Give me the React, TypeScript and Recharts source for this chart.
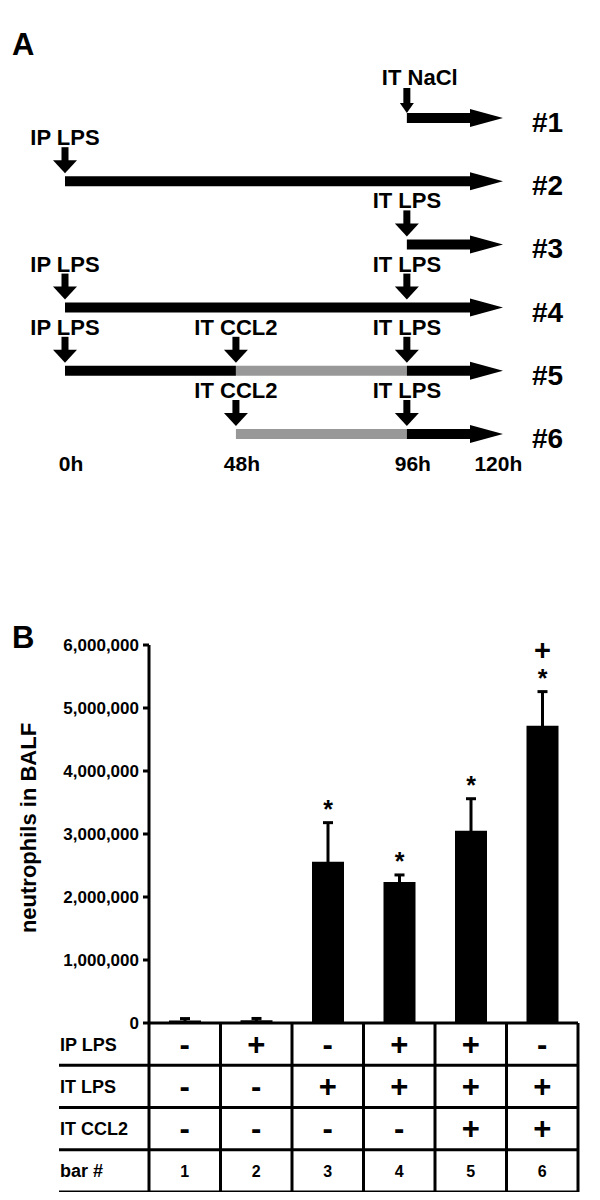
import React from 'react';
import {
  ComposedChart,
  BarChart,
  Bar,
  XAxis,
  YAxis,
  ReferenceLine,
  Scatter,
  ErrorBar,
  LabelList,
} from 'recharts';

const FONT = '"Liberation Sans", Arial, Helvetica, sans-serif';
const GRAY = '#989898';

// ---------- Panel A : treatment timeline ----------
const rowIds = [1, 2, 3, 4, 5, 6];
const rowNames = ['#1', '#2', '#3', '#4', '#5', '#6'];
const hourTicks = [0, 48, 96, 120];
const hourEnd = 123;
const segRow = [1, 2, 3, 4, 5, 5, 5, 6, 6];
const segFrom = [96, 0, 96, 0, 0, 48, 96, 48, 96];
const segTo = [123, 123, 123, 123, 48, 96, 123, 96, 123];
const segKind = ['LPS', 'LPS', 'LPS', 'LPS', 'LPS', 'CCL2', 'LPS', 'CCL2', 'LPS'];
const eventRow = [1, 2, 3, 4, 4, 5, 5, 5, 6, 6];
const eventHour = [96, 0, 96, 0, 96, 0, 48, 96, 48, 96];
const eventLabel = ['IT NaCl', 'IP LPS', 'IT LPS', 'IP LPS', 'IT LPS', 'IP LPS', 'IT CCL2', 'IT LPS', 'IT CCL2', 'IT LPS'];

// ---------- Panel B : neutrophils in BALF ----------
const barNums = ['1', '2', '3', '4', '5', '6'];
const neutrophils = [40000, 42000, 2560000, 2240000, 3050000, 4720000];
const neutroErr = [30000, 30000, 620000, 110000, 510000, 540000];
const sigStar = [false, false, true, true, true, true];
const sigPlus = [false, false, false, false, false, true];
const ipLps = ['-', '+', '-', '+', '+', '-'];
const itLps = ['-', '-', '+', '+', '+', '+'];
const itCcl2 = ['-', '-', '-', '-', '+', '+'];
const tableRowLabels = ['IP LPS', 'IT LPS', 'IT CCL2', 'bar #'];
const yTicks = [0, 1000000, 2000000, 3000000, 4000000, 5000000, 6000000];

const txt = { fontFamily: FONT, fontWeight: 700, fill: '#000' } as const;

// ----- Panel A shapes -----
const ArrowHead = (p: any) => {
  const { cx, cy } = p;
  if (cx == null || cy == null) return null;
  return <polygon points={`${cx - 33},${cy - 9} ${cx},${cy} ${cx - 33},${cy + 9}`} fill="#000" />;
};

const DownArrow = (p: any) => {
  const { cx, cy, payload } = p;
  if (cx == null || cy == null) return null;
  const small = payload && payload.label === 'IT NaCl';
  if (small) {
    return (
      <g>
        <text x={cx - 25} y={cy - 33} fontSize={22} textAnchor="start" style={txt}>
          {payload.label}
        </text>
        <rect x={cx - 3.5} y={cy - 30} width={7} height={16} fill="#000" />
        <polygon points={`${cx - 7},${cy - 15} ${cx + 7},${cy - 15} ${cx},${cy - 5}`} fill="#000" />
      </g>
    );
  }
  return (
    <g>
      <text x={cx} y={cy - 36} fontSize={22} textAnchor="middle" style={txt}>
        {payload.label}
      </text>
      <rect x={cx - 3.5} y={cy - 34} width={7} height={14} fill="#000" />
      <polygon points={`${cx - 12},${cy - 21} ${cx + 12},${cy - 21} ${cx},${cy - 8}`} fill="#000" />
    </g>
  );
};

const HourTick = (p: any) => {
  const { x, y, payload } = p;
  return (
    <text x={x + 6} y={y + 37} fontSize={21} textAnchor="middle" style={txt}>
      {payload.value}h
    </text>
  );
};

const RowTick = (p: any) => {
  const { x, y, payload } = p;
  const i = rowIds.indexOf(payload.value);
  return (
    <text x={x + 29} y={y + 14} fontSize={28} textAnchor="start" style={txt}>
      {rowNames[i]}
    </text>
  );
};

function PanelA() {
  const headData = rowIds.map((r) => ({ x: hourEnd, y: r }));
  const eventData = eventRow.map((r, i) => ({ x: eventHour[i], y: r, label: eventLabel[i] }));
  return (
    <ComposedChart width={584} height={480} margin={{ top: 110, right: 29, bottom: 24, left: 57 }}>
      <XAxis
        type="number"
        dataKey="x"
        domain={[0, hourEnd]}
        ticks={hourTicks}
        interval={0}
        axisLine={false}
        tickLine={false}
        tickSize={0}
        tickMargin={0}
        tick={<HourTick />}
      />
      <YAxis
        type="number"
        dataKey="y"
        domain={[1, 6]}
        reversed
        orientation="right"
        ticks={rowIds}
        interval={0}
        width={60}
        axisLine={false}
        tickLine={false}
        tickSize={0}
        tickMargin={0}
        tick={<RowTick />}
      />
      {segRow.map((r, i) => {
        const to = segTo[i] >= hourEnd ? hourEnd - 8.6 : segTo[i];
        return (
          <ReferenceLine
            key={`seg-${i}`}
            segment={[
              { x: segFrom[i], y: r },
              { x: to, y: r },
            ]}
            stroke={segKind[i] === 'CCL2' ? GRAY : '#000'}
            strokeWidth={10}
            ifOverflow="visible"
          />
        );
      })}
      <Scatter data={headData} shape={<ArrowHead />} isAnimationActive={false} />
      <Scatter data={eventData} shape={<DownArrow />} isAnimationActive={false} />
    </ComposedChart>
  );
}

// ----- Panel B parts -----
const TableTick = (p: any) => {
  const { x, y, payload } = p;
  const i = p.index != null ? p.index : payload.index;
  const n = barNums.length;
  const band = p.width && p.width > 100 && p.width < 500 ? p.width / n : 429 / n;
  const rowH = 42.25;
  const left = x - band / 2;
  const right = x + band / 2;
  const line = { stroke: '#000', strokeWidth: 3 };
  const els: any[] = [];
  els.push(<line key="r" x1={right} x2={right} y1={y} y2={y + 4 * rowH} {...line} />);
  if (i === 0) {
    const tableLeft = left - 90;
    const tableRight = left + n * band;
    els.push(<line key="l" x1={left} x2={left} y1={y} y2={y + 4 * rowH} {...line} />);
    for (let r = 1; r <= 4; r++) {
      els.push(
        <line key={`h${r}`} x1={tableLeft} x2={tableRight} y1={y + r * rowH} y2={y + r * rowH} {...line} />
      );
    }
    tableRowLabels.forEach((lab, r) => {
      els.push(
        <text key={`lab${r}`} x={tableLeft + 1} y={y + r * rowH + rowH / 2 + 6.5} fontSize={18} textAnchor="start" style={txt}>
          {lab}
        </text>
      );
    });
  }
  const signs = [ipLps[i], itLps[i], itCcl2[i]];
  signs.forEach((s, r) => {
    els.push(
      <text key={`s${r}`} x={x} y={y + r * rowH + rowH / 2 + 10.5} fontSize={31} textAnchor="middle" style={txt}>
        {s}
      </text>
    );
  });
  els.push(
    <text key="num" x={x} y={y + 3 * rowH + rowH / 2 + 6} fontSize={16} textAnchor="middle" style={txt}>
      {barNums[i]}
    </text>
  );
  return <g>{els}</g>;
};

const SigLabel = (p: any) => {
  const vb = p.viewBox || p;
  const { x, y, width, height } = vb;
  const i = p.index != null ? p.index : p.value;
  if (x == null || i == null) return null;
  const v = neutrophils[i];
  const ppu = v ? height / v : 0;
  const top = y - neutroErr[i] * ppu;
  const cx = x + width / 2;
  return (
    <g>
      {sigStar[i] && (
        <text x={cx} y={top - 19 + 14} fontSize={25} textAnchor="middle" style={txt}>
          *
        </text>
      )}
      {sigPlus[i] && (
        <text x={cx} y={top - 42 + 10} fontSize={29} textAnchor="middle" style={txt}>
          +
        </text>
      )}
    </g>
  );
};

const YLabel = (p: any) => {
  const vb = p.viewBox || {};
  const cx = (vb.x || 0) + 20;
  const cy = (vb.y || 0) + (vb.height || 0) / 2 - 6;
  return (
    <text
      x={cx}
      y={cy}
      transform={`rotate(-90 ${cx} ${cy})`}
      textAnchor="middle"
      dominantBaseline="central"
      fontSize={22}
      style={txt}
    >
      neutrophils in BALF
    </text>
  );
};

function PanelB() {
  const data = barNums.map((n, i) => ({
    name: n,
    idx: i,
    value: neutrophils[i],
    err: neutroErr[i],
  }));
  return (
    <BarChart width={584} height={600} data={data} margin={{ top: 45, right: 14, bottom: 7, left: 0 }}>
      <XAxis
        dataKey="name"
        height={170}
        interval={0}
        tickLine={false}
        tickSize={0}
        tickMargin={0}
        axisLine={{ stroke: '#000', strokeWidth: 3 }}
        tick={<TableTick />}
      />
      <YAxis
        type="number"
        domain={[0, 6000000]}
        ticks={yTicks}
        interval={0}
        width={141}
        tickSize={6}
        tickMargin={4}
        tickFormatter={(v: number) => v.toLocaleString('en-US')}
        tick={{ fill: '#000', fontSize: 17, fontWeight: 700, fontFamily: FONT }}
        axisLine={{ stroke: '#000', strokeWidth: 3 }}
        tickLine={{ stroke: '#000', strokeWidth: 3 }}
        label={<YLabel />}
      />
      <Bar dataKey="value" fill="#000" barSize={32} isAnimationActive={false}>
        <ErrorBar dataKey="err" width={5} strokeWidth={3} stroke="#000" isAnimationActive={false} />
        <LabelList dataKey="idx" content={<SigLabel />} />
      </Bar>
    </BarChart>
  );
}

export default function App() {
  return (
    <div style={{ position: 'relative', width: 584, height: 1184, fontFamily: FONT }}>
      <div style={{ position: 'absolute', left: 0, top: 0 }}>
        <PanelA />
      </div>
      <div style={{ position: 'absolute', left: 0, top: 592 }}>
        <PanelB />
      </div>
      <svg
        width={600}
        height={1200}
        style={{ position: 'absolute', left: -8, top: -8, pointerEvents: 'none' }}
      >
        <text x={12} y={55} fontSize={31} style={txt}>
          A
        </text>
        <text x={12} y={648} fontSize={31} style={txt}>
          B
        </text>
      </svg>
    </div>
  );
}
